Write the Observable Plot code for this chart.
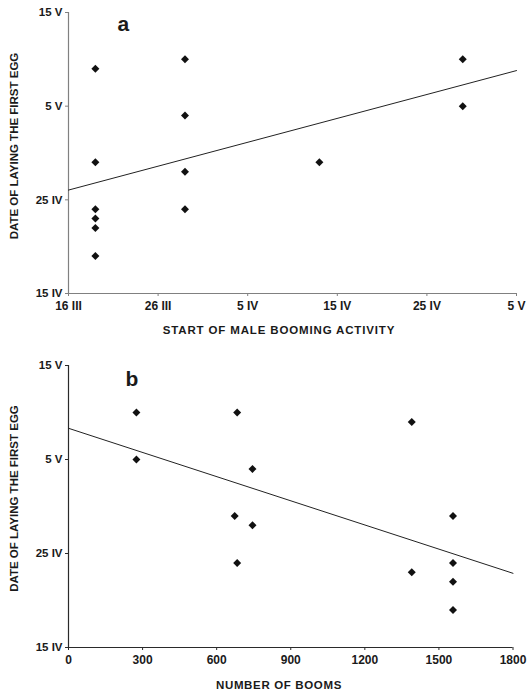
<!DOCTYPE html>
<html>
<head>
<meta charset="utf-8">
<script src="https://cdn.jsdelivr.net/npm/d3@7"></script>
<script src="https://cdn.jsdelivr.net/npm/@observablehq/plot@0.6"></script>
<style>
  html, body { margin: 0; padding: 0; background: #fff; }
  #chart { width: 527px; }
  #chart svg { display: block; }
</style>
</head>
<body>
<div id="chart"></div>
<script>
// ---- data ----
const startA = ["19 III","19 III","19 III","19 III","19 III","19 III","29 III","29 III","29 III","29 III","13 IV","29 IV","29 IV"];
const eggA   = ["9 V","29 IV","24 IV","23 IV","22 IV","19 IV","10 V","4 V","28 IV","24 IV","29 IV","10 V","5 V"];

const booms  = [275, 275, 683, 745, 673, 745, 683, 1390, 1557, 1557, 1557, 1557, 1390];
const eggB   = ["10 V","5 V","10 V","4 V","29 IV","28 IV","24 IV","9 V","29 IV","24 IV","22 IV","19 IV","23 IV"];

const xTicksA = ["16 III","26 III","5 IV","15 IV","25 IV","5 V"];
const yTicks  = ["15 IV","25 IV","5 V","15 V"];
const xTicksB = [0, 300, 600, 900, 1200, 1500, 1800];

const labelYText = "DATE OF LAYING THE FIRST EGG";
const labelXA = "START OF MALE BOOMING ACTIVITY";
const labelXB = "NUMBER OF BOOMS";

// ---- helpers ----
const monthStart = {III: 59, IV: 90, V: 120};
function doy(s) { const [d, m] = s.split(" "); return monthStart[m] + (+d); }
function fit(xs, ys) {
  const mx = d3.mean(xs), my = d3.mean(ys);
  let sxy = 0, sxx = 0;
  xs.forEach((x, i) => { sxy += (x - mx) * (ys[i] - my); sxx += (x - mx) ** 2; });
  const b = sxy / sxx, a = my - b * mx;
  return x => a + b * x;
}

const FONT = "Arial, 'Liberation Sans', sans-serif";
const TXT = "#1a1a1a";

function panel({xs, ys, xTickVals, xTickFmt, xLabel, letter, axisColor, height, marginTop, marginBottom, marginRight, letterDx, letterDy, yLabDy, xLabDy, xLabSpacing}) {
  const yVals = yTicks.map(doy);
  const xDom = [d3.min(xTickVals), d3.max(xTickVals)];
  const yDom = [d3.min(yVals), d3.max(yVals)];
  const f = fit(xs, ys);
  const lineData = xDom.map(x => ({x, y: f(x)}));
  const pts = xs.map((x, i) => ({x, y: ys[i]}));
  const yFmt = new Map(yVals.map((v, i) => [v, yTicks[i]]));
  const svg = Plot.plot({
    width: 527,
    height,
    marginLeft: 68,
    marginRight,
    marginTop,
    marginBottom,
    style: {fontFamily: FONT, fontSize: "11px", color: TXT, background: "#fff", overflow: "visible"},
    x: {domain: xDom},
    y: {domain: yDom},
    marks: [
      Plot.axisY({ticks: yVals, tickFormat: v => yFmt.get(v), tickSize: 3, tickPadding: 3, stroke: axisColor, fill: TXT, fontSize: 11.5, fontWeight: "bold", label: null}),
      Plot.axisX({ticks: xTickVals, tickFormat: xTickFmt, tickSize: 3, tickPadding: 5, stroke: axisColor, fill: TXT, fontSize: 12, fontWeight: "bold", label: null}),
      Plot.ruleX([xDom[0]], {stroke: axisColor, strokeWidth: 1.2}),
      Plot.ruleY([yDom[0]], {stroke: axisColor, strokeWidth: 1.2}),
      Plot.line(lineData, {x: "x", y: "y", stroke: "#222", strokeWidth: 1}),
      Plot.dot(pts, {x: "x", y: "y", symbol: "diamond2", r: 3.6, fill: "#111", stroke: "none"}),
      Plot.text([letter], {frameAnchor: "top-left", dx: letterDx, dy: letterDy, text: d => d, textAnchor: "start", lineAnchor: "bottom", fontSize: 21, fontWeight: "bold", fill: TXT}),
      Plot.text([xLabel], {frameAnchor: "bottom-left", dx: 210.5, dy: xLabDy, text: d => d, textAnchor: "middle", lineAnchor: "middle", fontSize: 11.5, fontWeight: "bold", fill: TXT}),
      Plot.text([labelYText], {frameAnchor: "left", dx: -54, dy: yLabDy, rotate: -90, text: d => d, textAnchor: "middle", lineAnchor: "middle", fontSize: 11.5, fontWeight: "bold", fill: TXT})
    ]
  });
  d3.select(svg).selectAll("text").filter(function() { return this.textContent === xLabel; })
    .style("letter-spacing", xLabSpacing + "px");
  return svg;
}

const chart = document.getElementById("chart");
const xValsA = xTicksA.map(doy);
const xFmtA = new Map(xValsA.map((v, i) => [v, xTicksA[i]]));

chart.appendChild(panel({
  xs: startA.map(doy), ys: eggA.map(doy),
  xTickVals: xValsA, xTickFmt: v => xFmtA.get(v),
  xLabel: labelXA, letter: "a", axisColor: "#808080",
  height: 340, marginTop: 12, marginBottom: 47, marginRight: 11,
  letterDx: 49, letterDy: 18, yLabDy: -7, xLabDy: 37, xLabSpacing: 0.85
}));

chart.appendChild(panel({
  xs: booms, ys: eggB.map(doy),
  xTickVals: xTicksB, xTickFmt: v => String(v),
  xLabel: labelXB, letter: "b", axisColor: "#2a2a2a",
  height: 352, marginTop: 25, marginBottom: 45, marginRight: 14.5,
  letterDx: 57, letterDy: 20, yLabDy: -8, xLabDy: 38, xLabSpacing: 0.65
}));
</script>
</body>
</html>
